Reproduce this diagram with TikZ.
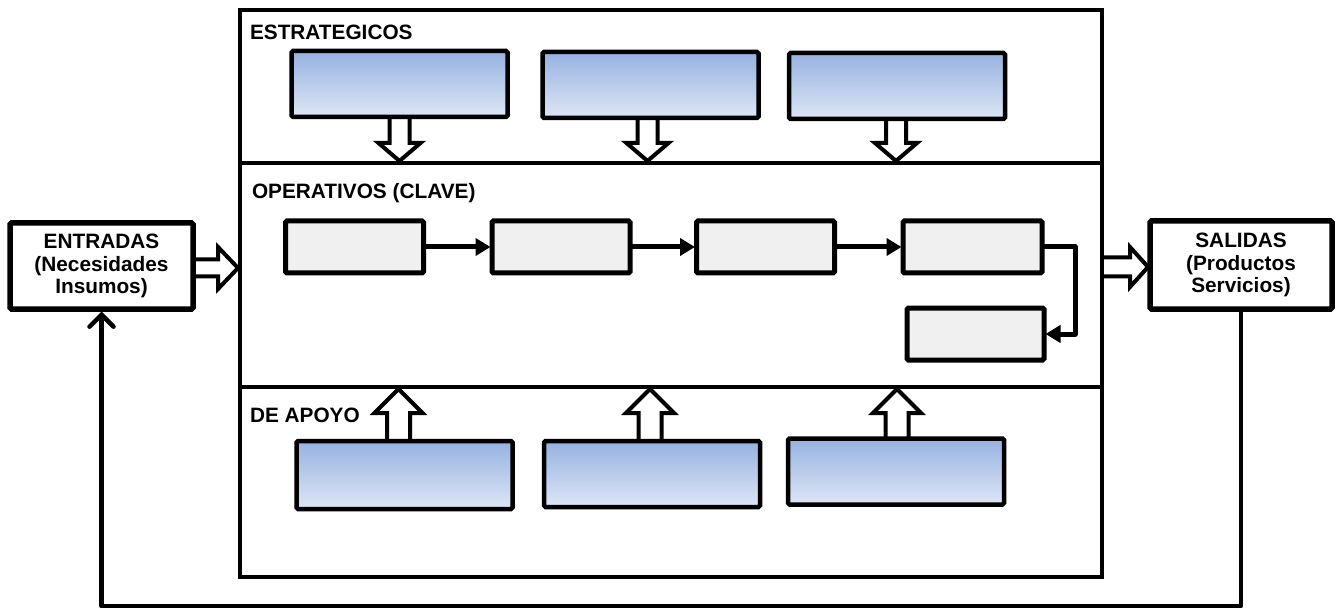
\documentclass[tikz,border=0pt]{standalone}
\usepackage{fontspec}
\setmainfont{Liberation Sans}
\usetikzlibrary{arrows.meta,calc,backgrounds}
\definecolor{boxtop}{RGB}{150,178,225}
\definecolor{boxbot}{RGB}{222,230,245}
\definecolor{opfill}{RGB}{240,240,240}
\tikzset{
  % hollow block arrow, tip at the origin, pointing along +y
  pics/hollowv/.style n args={4}{code={
    \draw[hollow] (-#2,-#1) -- (-#2,-#4) -- (-#3,-#4) -- (0,0) -- (#3,-#4) -- (#2,-#4) -- (#2,-#1);
  }}
}
\begin{document}
\begin{tikzpicture}[x=1pt,y=-1pt,
  every node/.style={inner sep=0pt, outer sep=0pt},
  bigfont/.style={font=\bfseries\fontsize{20.8pt}{22.5pt}\selectfont},
  panel/.style={draw, line width=4.5pt, minimum width=862pt},
  lbl/.style={bigfont, anchor=base west},
  bluebox/.style={draw, line width=4.5pt, rounded corners=1.5pt, top color=boxtop, bottom color=boxbot,
    minimum width=216pt, minimum height=66pt},
  graybox/.style={draw, line width=5pt, rounded corners=1.5pt, fill=opfill,
    minimum width=138pt, minimum height=52pt},
  iobox/.style={draw, line width=5.5pt, rounded corners=1.5pt, fill=white, align=center, bigfont},
  hollow/.style={draw, line width=4pt, fill=white, line join=miter},
  flow/.style={line width=5pt, shorten >=1.5pt, -{Triangle[length=15pt,width=17pt]}},
  feedback/.style={line width=4.5pt, line join=round, shorten >=2.5pt,
    -{Straight Barb[length=12pt,width=24pt,line cap=round]}},
]
\useasboundingbox (0,0) rectangle (1337,609);

% process boxes
\node[bluebox] (s1) at (399.5,84) {};
\node[bluebox] (s2) at (650.5,85) {};
\node[bluebox] (s3) at (897,86) {};

\node[graybox] (o1) at (354.5,247) {};
\node[graybox] (o2) at (561,247) {};
\node[graybox] (o3) at (765.5,247) {};
\node[graybox, minimum width=139pt] (o4) at (972.5,247) {};
\node[graybox, minimum width=137pt] (o5) at (975.5,334) {};

\node[bluebox, minimum height=68pt] (b1) at (404.5,475) {};
\node[bluebox] (b2) at (652,474) {};
\node[bluebox] (b3) at (896,471.5) {};

\node[iobox, minimum width=183pt, minimum height=86pt] (ent) at (101.5,266)
  {ENTRADAS\\(Necesidades\\Insumos)};
\node[iobox, minimum width=182pt, minimum height=88pt] (sal) at (1241,265)
  {SALIDAS\\(Productos\\Servicios)};

\begin{scope}[on background layer]
  % the three process bands
  \node[panel, minimum height=153pt] (sp) at (671,86.5) {};
  \node[panel, minimum height=224pt] (op) at (671,275) {};
  \node[panel, minimum height=190pt] (su) at (671,482) {};

  % block arrows into the operating band
  \pic at ($(s1.center |- sp.south)+(0,-2)$) {hollowv={50}{10}{21}{18}};
  \pic at ($(s2.center |- sp.south)+(-3,-2)$) {hollowv={50}{10}{21}{18}};
  \pic at ($(s3.center |- sp.south)+(-1,-2)$) {hollowv={50}{10}{21}{18}};

  \pic[rotate=180] at ($(b1.north |- su.north)+(-6,2)$) {hollowv={60}{11.5}{24}{24}};
  \pic[rotate=180] at ($(b2.north |- su.north)+(-2,2)$) {hollowv={60}{11.5}{24}{24}};
  \pic[rotate=180] at ($(b3.north |- su.north)+(1,2)$) {hollowv={60}{11.5}{24}{24}};

  % inputs and outputs
  \pic[rotate=90] at ($(op.west |- ent.east)+(-2,2)$) {hollowv={50}{8.5}{21}{20}};
  \pic[rotate=90] at ($(sal.west)+(-2,2)$) {hollowv={44}{9.5}{20}{18}};
\end{scope}

% band titles
\node[lbl] (tst) at (250,40) {ESTRATEGICOS};
\node[lbl] (top) at (252,199) {OPERATIVOS (CLAVE)};
\node[lbl] (tsu) at (250,422) {DE APOYO};

% key process chain
\draw[flow] (o1.east) -- (o2.west);
\draw[flow] (o2.east) -- (o3.west);
\draw[flow] (o3.east) -- (o4.west);
\draw[flow, line join=round] (o4.east) -- ++(33,0) |- (o5.east);

% feedback loop from outputs back to inputs
\draw[feedback] (sal.south) -- ++(0,297) -| (ent.south);
\end{tikzpicture}
\end{document}
